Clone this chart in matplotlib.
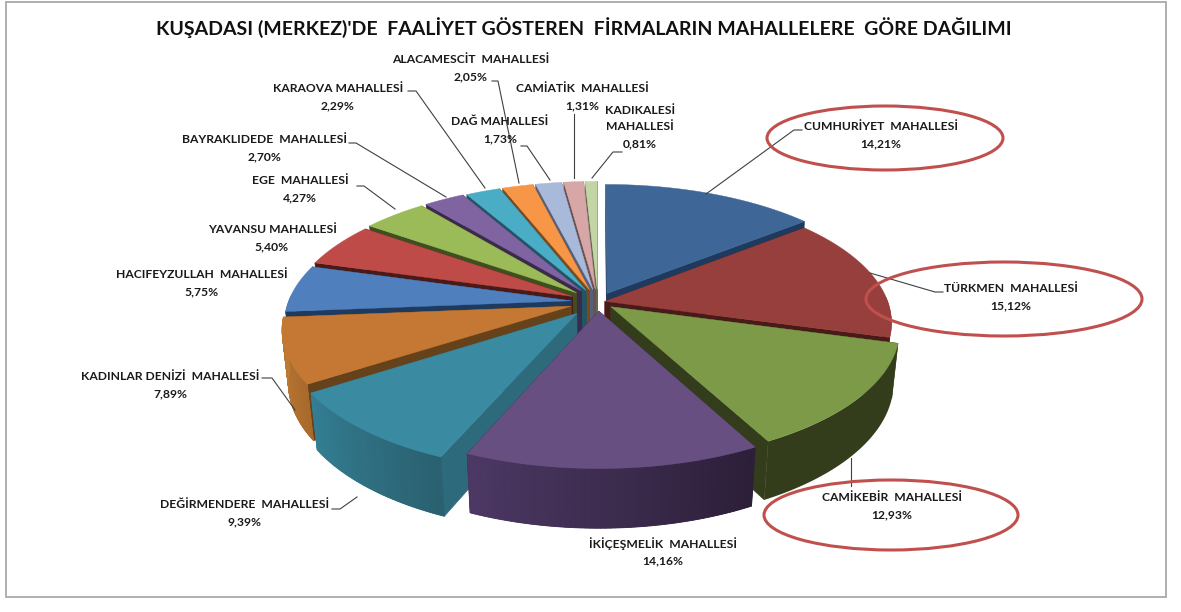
import numpy as np
import matplotlib
matplotlib.use('Agg')
import matplotlib.pyplot as plt
from matplotlib.colors import to_rgb
from matplotlib.patches import Ellipse, Rectangle

plt.rcParams['font.family'] = ['Lato', 'DejaVu Sans']

title = "KUŞADASI (MERKEZ)'DE  FAALİYET GÖSTEREN  FİRMALARIN MAHALLELERE  GÖRE DAĞILIMI"

names = ['CUMHURİYET  MAHALLESİ', 'TÜRKMEN  MAHALLESİ', 'CAMİKEBİR  MAHALLESİ',
         'İKİÇEŞMELİK  MAHALLESİ', 'DEĞİRMENDERE  MAHALLESİ', 'KADINLAR DENİZİ  MAHALLESİ',
         'HACIFEYZULLAH  MAHALLESİ', 'YAVANSU MAHALLESİ', 'EGE  MAHALLESİ',
         'BAYRAKLIDEDE  MAHALLESİ', 'KARAOVA MAHALLESİ', 'ALACAMESCİT  MAHALLESİ',
         'DAĞ MAHALLESİ', 'CAMİATİK  MAHALLESİ', 'KADIKALESİ\nMAHALLESİ']
values = [14.21, 15.12, 12.93, 14.16, 9.39, 7.89, 5.75, 5.40, 4.27, 2.70, 2.29, 2.05, 1.73, 1.31, 0.81]

top_colors = ['#3e6797', '#973f3c', '#7d9a48', '#684f81', '#3a8aa2', '#c57834', '#4f7fbd', '#be4b48',
              '#9bbb59', '#8064a2', '#4bacc6', '#f79646', '#a8b9da', '#d7a6a6', '#c3d5a5']
side_colors = ['#1f3a5f', '#4a1a18', '#333d1c', '#3a2a4c', '#2c6a7c', '#66421a', '#1f3a5f', '#4a1a18',
               '#3f4f1e', '#3a2a4c', '#1f5566', '#7a4a1c', '#55607a', '#6e5050', '#606c50']
wall_start = ['#1f3a5f', '#4a1a18', '#333d1c', '#4c3864', '#347f94', '#c07a36', '#1f3a5f', '#4a1a18',
              '#3f4f1e', '#3a2a4c', '#1f5566', '#7a4a1c', '#55607a', '#6e5050', '#606c50']
wall_end = ['#1f3a5f', '#4a1a18', '#333d1c', '#2c1f38', '#2a6070', '#a86a2c', '#1f3a5f', '#4a1a18',
            '#3f4f1e', '#3a2a4c', '#1f5566', '#7a4a1c', '#55607a', '#6e5050', '#606c50']
explode = [0.074, 0.025, 0.058, 0.07, 0.115, 0.1, 0.095, 0.1, 0.105, 0.105, 0.1, 0.1, 0.1, 0.1, 0.1]

# label centre (px) and leader line (px) for each slice
label_pos = [(881, 135), (1011, 297), (892, 506), (663, 552), (245, 513), (170, 385), (202, 283),
             (272, 238), (300, 189), (265, 148), (338, 97), (471, 68), (500, 130), (582, 97), (640, 127)]
leaders = [[(706, 194), (794, 130), (802, 130)],
           [(870, 273), (935, 292), (943, 292)],
           [(851, 458), (851, 486)],
           None,
           [(357, 497), (340, 509), (332, 509)],
           [(295, 410), (272, 378), (262, 378)],
           None,
           None,
           [(395, 209), (364, 186), (357, 186)],
           [(446, 197), (356, 143), (349, 143)],
           [(485, 188), (416, 91), (408, 91)],
           [(519, 183), (498, 81), (492, 81)],
           [(550, 180), (527, 146), (521, 146)],
           [(574, 178), (574, 114)],
           [(592, 178), (613, 152), (622, 152)]]
circled = [(885, 138, 236, 64), (1004, 299, 276, 74), (891, 515, 254, 70)]

cx, cy = 598, 302
rx, ry = 283, 129
depth = 54
persp = 0.16
persp_z = 0.02
line_gap = 17


def project(u, v, z):
    s = 1 / (1 + persp * v + persp_z * z)
    return cx + rx * u * s, cy - ry * v * s + depth * z * s


fig = plt.figure(figsize=(11.81, 6.12), dpi=100)
ax = fig.add_axes([0, 0, 1, 1])
ax.set_xlim(0, 1181)
ax.set_ylim(612, 0)
ax.axis('off')

ax.add_patch(Rectangle((6, 2), 1160, 595, fill=False, ec='#a9a9a9', lw=1.3))

shares = np.array(values) / sum(values)
ends = np.cumsum(shares) * 2 * np.pi
starts = ends - shares * 2 * np.pi
mids = (starts + ends) / 2

# back slices first so the front ones cover them
for i in np.argsort(-np.cos(mids)):
    ox, oy = explode[i] * np.sin(mids[i]), explode[i] * np.cos(mids[i])
    a = np.linspace(starts[i], ends[i], 60)
    us, vs = ox + np.sin(a), oy + np.cos(a)

    for edge in (0, -1):
        x = [project(ox, oy, 0)[0], project(us[edge], vs[edge], 0)[0],
             project(us[edge], vs[edge], 1)[0], project(ox, oy, 1)[0]]
        y = [project(ox, oy, 0)[1], project(us[edge], vs[edge], 0)[1],
             project(us[edge], vs[edge], 1)[1], project(ox, oy, 1)[1]]
        ax.fill(x, y, color=side_colors[i], lw=0.4)

    # solid wall underneath so the strips leave no seams
    front = np.cos(a) < 0.05
    if front.sum() > 1:
        wx0, wy0 = project(us[front], vs[front], 0)
        wx1, wy1 = project(us[front], vs[front], 1)
        c0, c1 = np.array(to_rgb(wall_start[i])), np.array(to_rgb(wall_end[i]))
        ax.fill(np.r_[wx0, wx1[::-1]], np.r_[wy0, wy1[::-1]], color=(c0 + c1) / 2, lw=0)
        if wall_start[i] != wall_end[i]:
            n = len(wx0)
            for k in range(n - 1):
                # angles run clockwise, so on the front the wall goes from right to left
                t = k / (n - 2)
                ax.fill([wx0[k], wx0[k + 1], wx1[k + 1], wx1[k]], [wy0[k], wy0[k + 1], wy1[k + 1], wy1[k]],
                        color=c1 + (c0 - c1) * t, lw=0.6)

    tx, ty = project(np.r_[ox, us], np.r_[oy, vs], 0)
    ax.fill(tx, ty, color=top_colors[i], lw=0.3)

for pts in leaders:
    if pts is None:
        continue
    ax.plot([p[0] for p in pts], [p[1] for p in pts], color='#404040', lw=0.8, zorder=5)

for name, val, pos in zip(names, values, label_pos):
    lines = name.split('\n') + [f'{val:.2f}'.replace('.', ',') + '%']
    for j, line in enumerate(lines):
        ax.text(pos[0], pos[1] + (j - (len(lines) - 1) / 2) * line_gap, line, ha='center', va='center',
                fontsize=8.7, fontweight='bold', color='#1a1a1a', zorder=6)

for ex, ey, ew, eh in circled:
    ax.add_patch(Ellipse((ex, ey), ew, eh, fill=False, ec='#c0504d', lw=2.2, zorder=7))

ax.text(584, 28, title, ha='center', va='center', fontsize=14, fontweight='bold', color='#111111')

fig.savefig('out.png', dpi=100)
